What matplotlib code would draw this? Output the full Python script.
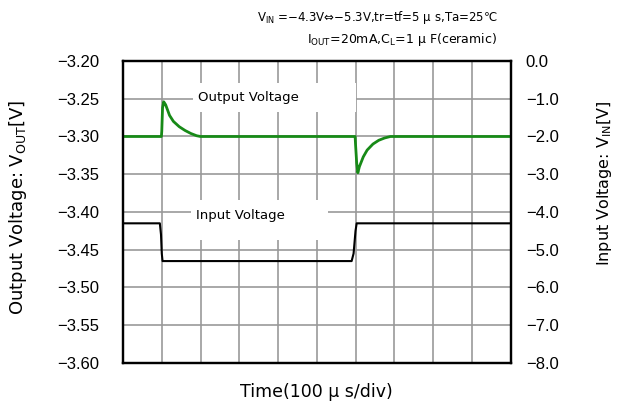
import matplotlib
matplotlib.use("Agg")
import matplotlib.pyplot as plt
from matplotlib.patches import Rectangle

plt.rcParams['font.family'] = ['Liberation Sans', 'DejaVu Sans']
plt.rcParams['mathtext.fontset'] = 'custom'
plt.rcParams['mathtext.rm'] = 'DejaVu Sans'
plt.rcParams['mathtext.fallback'] = 'stixsans'

# time in divisions (100us/div)
t_out = [0.0, 0.99, 1.0, 1.02, 1.05, 1.1, 1.2, 1.3, 1.45, 1.6, 1.75, 1.9, 2.0, 2.5,
         5.99, 6.0, 6.03, 6.06, 6.1, 6.2, 6.3, 6.45, 6.6, 6.75, 6.9, 7.5, 10.0]
v_out = [-3.300, -3.300, -3.293, -3.262, -3.254, -3.258, -3.272, -3.280, -3.287, -3.292,
         -3.296, -3.299, -3.300, -3.300,
         -3.300, -3.310, -3.335, -3.348, -3.340, -3.327, -3.318, -3.310, -3.305, -3.302,
         -3.300, -3.300, -3.300]

t_in = [0.0, 0.95, 0.98, 1.0, 1.02, 5.9, 5.95, 6.0, 6.03, 10.0]
v_in = [-4.3, -4.3, -4.6, -5.1, -5.3, -5.3, -5.1, -4.5, -4.3, -4.3]

left_ticks = [-3.20, -3.25, -3.30, -3.35, -3.40, -3.45, -3.50, -3.55, -3.60]
right_ticks = [0.0, -1.0, -2.0, -3.0, -4.0, -5.0, -6.0, -7.0, -8.0]

fig = plt.figure(figsize=(6.17, 4.08), dpi=100)
ax = fig.add_axes([0.1994, 0.1103, 0.628, 0.7402])
ax2 = ax.twinx()

ax.set_xlim(0, 10)
ax.set_ylim(-3.60, -3.20)
ax2.set_ylim(-8.0, 0.0)
ax.set_xticks(range(11))
ax.set_xticklabels([])
ax.set_yticks(left_ticks)
ax.set_yticklabels([("%.2f" % v).replace('-', '\u2212') for v in left_ticks])
ax2.set_yticks(right_ticks)
ax2.set_yticklabels([("%.1f" % v).replace('-', '\u2212') for v in right_ticks])
ax.tick_params(length=0, labelsize=12, pad=17)
ax2.tick_params(length=0, labelsize=12, pad=11)
ax.grid(True, color='#999999', lw=1.2)
ax.set_axisbelow(True)
for a in (ax, ax2):
    for s in a.spines.values():
        s.set_linewidth(1.6)
        s.set_color('black')

dv = 'DejaVu Sans'

# label boxes hide the grid
ax.add_patch(Rectangle((1.8, -3.2675), 4.2, 0.0385, facecolor='white', edgecolor='none', zorder=1))
ax.add_patch(Rectangle((1.75, -3.437), 3.54, 0.053, facecolor='white', edgecolor='none', zorder=1))
ax.text(1.94, -3.249, "Output Voltage", fontsize=9.5, family=dv, va='center', ha='left', zorder=2)
ax.text(1.88, -3.405, "Input Voltage", fontsize=9.5, family=dv, va='center', ha='left', zorder=2)

ax.plot(t_out, v_out, color='#178a17', lw=2, zorder=3)
ax2.plot(t_in, v_in, color='black', lw=1.5, zorder=3)

fig.text(498 / 617, 1 - 17 / 408, r"V$_{\mathregular{IN}}$ =−4.3V⇔−5.3V,tr=tf=5 μ s,Ta=25℃",
         fontsize=8.5, family=dv, ha='right', va='center')
fig.text(497 / 617, 1 - 40 / 408, r"I$_{\mathregular{OUT}}$=20mA,C$_{\mathregular{L}}$=1 μ F(ceramic)",
         fontsize=9, family=dv, ha='right', va='center')
fig.text(18 / 617, 1 - 207 / 408, r"Output Voltage: V$_{\mathregular{OUT}}$[V]",
         fontsize=13, family=dv, rotation=90, ha='center', va='center')
fig.text(605 / 617, 1 - 183 / 408, r"Input Voltage: V$_{\mathregular{IN}}$[V]",
         fontsize=11.5, family=dv, rotation=90, ha='center', va='center')
fig.text(316 / 617, 1 - 392 / 408, "Time(100 μ s/div)", fontsize=12.5, family=dv,
         ha='center', va='center')

fig.savefig("out.png", dpi=100)
